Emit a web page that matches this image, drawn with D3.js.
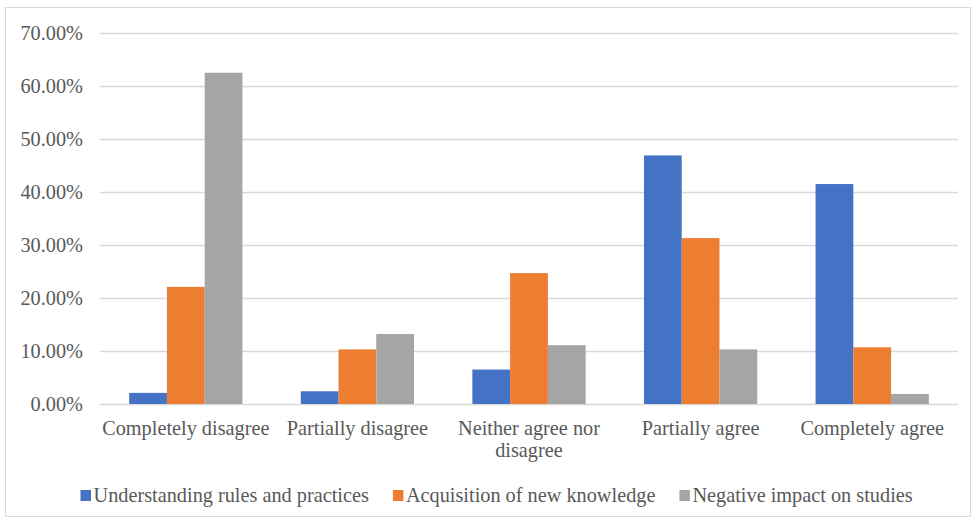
<!DOCTYPE html>
<html>
<head>
<meta charset="utf-8">
<script src="https://cdn.jsdelivr.net/npm/d3@7"></script>
<style>
  body { margin: 0; background: #fff; }
  text { font-family: "Liberation Serif", "Times New Roman", serif; fill: #595959; }
</style>
</head>
<body>
<div class="chart"></div>
<script>
// Chart data
var categories = ["Completely disagree", "Partially disagree", "Neither agree nor disagree", "Partially agree", "Completely agree"];
var seriesNames = ["Understanding rules and practices", "Acquisition of new knowledge", "Negative impact on studies"];
var understanding = [2.1, 2.4, 6.5, 46.9, 41.5];
var acquisition = [22.1, 10.3, 24.7, 31.3, 10.7];
var negative = [62.5, 13.2, 11.1, 10.3, 1.9];
var yTicks = [0, 10, 20, 30, 40, 50, 60, 70];
var colors = ["#4472C4", "#ED7D31", "#A5A5A5"];

var svgWidth = 977;
var svgHeight = 524;
var fontFamily = "Liberation Serif, Times New Roman, serif";
var fontSize = "20.3px";

var margin = { top: 33, right: 19, bottom: 120, left: 100 };
var width = svgWidth - margin.left - margin.right;
var height = 404 - margin.top;

var svg = d3.select(".chart")
  .append("svg")
  .attr("width", svgWidth)
  .attr("height", svgHeight);

// outer frame
svg.append("rect")
  .attr("x", 5.5)
  .attr("y", 7.5)
  .attr("width", 965)
  .attr("height", 509)
  .attr("fill", "none")
  .attr("stroke", "#d9d9d9");

var chart = svg.append("g")
  .attr("transform", "translate(" + margin.left + "," + margin.top + ")");

var data = categories.map(function(c, i) {
  return { cat: c, values: [understanding[i], acquisition[i], negative[i]] };
});

var x0 = d3.scaleBand()
  .domain(categories)
  .range([0, width])
  .paddingInner(0.34)
  .paddingOuter(0.17);

var x1 = d3.scaleBand()
  .domain(d3.range(seriesNames.length))
  .range([0, x0.bandwidth()]);

var y = d3.scaleLinear().domain([0, 70]).range([height, 0]);

// gridlines
chart.selectAll(".grid")
  .data(yTicks)
  .enter().append("line")
  .attr("x1", 0)
  .attr("x2", width)
  .attr("y1", function(d) { return Math.round(y(d)) + 0.5; })
  .attr("y2", function(d) { return Math.round(y(d)) + 0.5; })
  .attr("stroke", "#d9d9d9")
  .attr("stroke-width", 1.5);

// y axis labels
var leftAxis = d3.axisLeft(y)
  .tickValues(yTicks)
  .tickSize(0)
  .tickPadding(17)
  .tickFormat(function(d) { return d.toFixed(2) + "%"; });

var yAxis = chart.append("g").call(leftAxis)
  .attr("font-family", fontFamily)
  .attr("font-size", fontSize);
yAxis.select(".domain").remove();
yAxis.selectAll("text")
  .attr("fill", "#595959");

// bars
var groups = chart.selectAll(".group")
  .data(data)
  .enter().append("g")
  .attr("transform", function(d) { return "translate(" + x0(d.cat) + ",0)"; });

groups.selectAll("rect")
  .data(function(d) { return d.values; })
  .enter().append("rect")
  .attr("x", function(d, i) { return x1(i); })
  .attr("y", function(d) { return y(d); })
  .attr("width", x1.bandwidth())
  .attr("height", function(d) { return height - y(d); })
  .attr("fill", function(d, i) { return colors[i]; });

// category labels
var catLines = {
  "Neither agree nor disagree": ["Neither agree nor", "disagree"]
};
var catText = chart.selectAll(".cat")
  .data(categories)
  .enter().append("text")
  .attr("text-anchor", "middle")
  .attr("font-family", fontFamily)
  .attr("font-size", fontSize)
  .attr("x", function(d) { return x0(d) + x0.bandwidth() / 2; })
  .attr("y", height + 31);

catText.each(function(d) {
  var lines = catLines[d] || [d];
  var t = d3.select(this);
  lines.forEach(function(l, i) {
    t.append("tspan")
      .attr("x", x0(d) + x0.bandwidth() / 2)
      .attr("dy", i === 0 ? 0 : 22)
      .text(l);
  });
});

// legend
var legend = svg.append("g").attr("transform", "translate(80.5,502)");
var lx = 0;
seriesNames.forEach(function(name, i) {
  var item = legend.append("g").attr("transform", "translate(" + lx + ",0)");
  item.append("rect")
    .attr("x", 0)
    .attr("y", -12)
    .attr("width", 10.5)
    .attr("height", 11)
    .attr("fill", colors[i]);
  var t = item.append("text")
    .attr("x", 13)
    .attr("y", 0)
    .attr("font-family", fontFamily)
    .attr("font-size", fontSize)
    .text(name);
  lx += 13 + t.node().getComputedTextLength() + 24;
});
</script>
</body>
</html>
